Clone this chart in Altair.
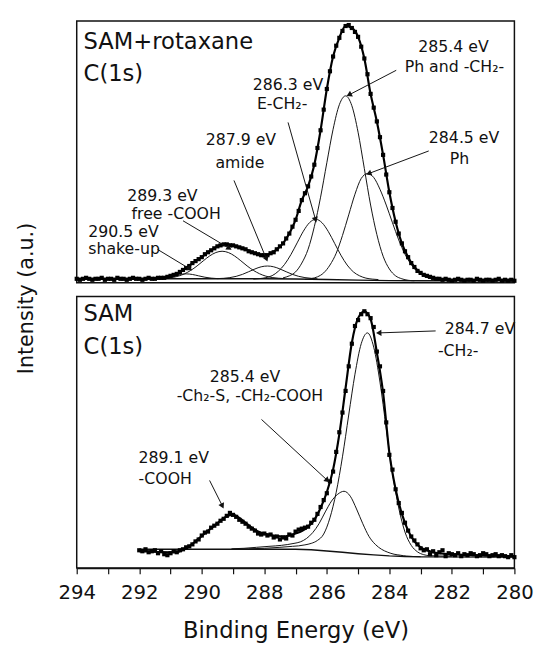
import math
import altair as alt
import pandas as pd

# ---------------- TOP PANEL (SAM+rotaxane) ----------------
top_data_start = 294.0
top_data_step = 0.1
top_data_i = [4, 3, 4, 5, 4, 3, 4, 4, 5, 3, 4, 4, 3, 5, 4, 4, 3, 4, 5, 4, 4,
              3, 4, 5, 4, 4, 5, 5, 5, 6, 7,
              8, 9, 11, 13, 15, 17, 20, 22, 24, 26,
              29, 31, 33, 35, 37, 38, 39, 39, 38, 38,
              37, 36, 35, 34, 32, 31, 30, 29, 28, 28,
              28, 30, 31, 34, 37, 40, 45, 50, 57, 64,
              73, 84, 91, 98, 108, 120, 137, 155, 176, 197,
              215, 230, 241, 249, 256, 261, 262, 259, 255, 250,
              240, 228, 212, 192, 178, 164, 148, 130, 110, 92,
              76, 62, 50, 40, 32, 26, 20, 16, 12, 10,
              8, 7, 6, 5, 4, 4, 3, 4, 3, 2,
              3, 4, 3, 2, 3, 3, 2, 4, 3, 2,
              3, 3, 2, 3, 4, 2, 3, 2, 3, 2]

top_env_e = [294, 292, 291.4, 291.2, 291.0, 290.8, 290.6, 290.4, 290.2, 290.0, 289.8, 289.6,
             289.4, 289.2, 289.0, 288.8, 288.6, 288.4, 288.2, 288.0, 287.8, 287.6, 287.4, 287.2,
             287.0, 286.8, 286.6, 286.4, 286.2, 286.0, 285.8, 285.6, 285.4, 285.2, 285.0, 284.8,
             284.6, 284.4, 284.2, 284.0, 283.8, 283.6, 283.4, 283.2, 283.0, 282.8, 282.6, 282.4,
             282.2, 282.0, 280.0]
top_env_i = [4, 4, 4.3, 5, 6.5, 9, 13, 17.5, 22, 26, 31, 35,
             38.5, 39, 38, 36, 34, 31, 29, 28, 29.5, 34, 40, 50,
             64, 84, 98, 120, 155, 197, 230, 249, 261, 259, 250, 228,
             192, 164, 130, 92, 62, 40, 26, 16, 10, 7, 5, 4,
             3.5, 3, 3]

top_bg_e = [294, 288, 287, 286, 285, 284, 283, 280]
top_bg_i = [4, 4, 3.8, 3.3, 2.6, 2.1, 2, 2]

c2905_e = [291.5, 291.3, 291.1, 290.9, 290.7, 290.5, 290.3, 290.1, 289.9, 289.7, 289.5]
c2905_i = [4.2, 4.7, 5.6, 7, 8.4, 9, 8.4, 7, 5.6, 4.7, 4.2]

c2893_e = [291.35, 291.15, 290.95, 290.75, 290.55, 290.35, 290.15, 289.95, 289.75, 289.55, 289.35,
           289.15, 288.95, 288.75, 288.55, 288.35, 288.15, 287.95, 287.75, 287.55, 287.35]
c2893_i = [4.2, 4.6, 5.3, 6.7, 9.1, 12.6, 17.1, 22.3, 27.2, 30.7, 32,
           30.7, 27.2, 22.3, 17.1, 12.6, 9.1, 6.7, 5.3, 4.6, 4.2]

c2879_e = [289.5, 289.3, 289.1, 288.9, 288.7, 288.5, 288.3, 288.1, 287.9, 287.7, 287.5, 287.3,
           287.1, 286.9, 286.7, 286.5, 286.3]
c2879_i = [4.2, 4.5, 5.2, 6.5, 8.5, 11.2, 14, 16.2, 17, 16.2, 14, 11.2, 8.5, 6.5, 5.2, 4.5, 4.0]

c2863_e = [288.35, 288.15, 287.95, 287.75, 287.55, 287.35, 287.15, 286.95, 286.75, 286.55, 286.35,
           286.15, 285.95, 285.75, 285.55, 285.35, 285.15, 284.95, 284.75, 284.55, 284.35]
c2863_i = [3.7, 4.2, 5.2, 7.2, 11.7, 18.7, 28.6, 40.5, 52.4, 61.2, 64.5,
           60.9, 51.9, 40, 28, 18, 11, 7, 4.7, 3.7, 3.2]

c2854_e = [287.4, 287.2, 287.0, 286.8, 286.6, 286.4, 286.2, 286.0, 285.8, 285.6, 285.4,
           285.2, 285.0, 284.8, 284.6, 284.4, 284.2, 284.0, 283.8, 283.6, 283.4, 283.2]
c2854_i = [5, 7, 11, 20, 34, 57, 87, 122, 156, 181, 190,
           180, 153, 116, 79, 49, 27, 14, 7, 4, 2.5, 2]

c2845_e = [286.7, 286.5, 286.3, 286.1, 285.9, 285.7, 285.5, 285.3, 285.1, 284.9, 284.7,
           284.5, 284.3, 284.1, 283.9, 283.7, 283.5, 283.3, 283.1, 282.9, 282.7, 282.5]
c2845_i = [3.4, 4.2, 6, 10, 18, 30, 48, 69, 90, 106, 111,
           107, 95, 79, 61, 43.5, 29, 18.5, 11, 7, 4.3, 3]

top_big_text = ["SAM+rotaxane", "C(1s)"]
top_big_e = [293.78, 293.78]
top_big_i = [238, 205]

top_lab_text = ["285.4 eV", "Ph and -CH\u2082-", "286.3 eV", "E-CH\u2082-", "287.9 eV", "amide",
                "289.3 eV", "free -COOH", "284.5 eV", "Ph"]
top_lab_e = [281.95, 281.92, 287.24, 287.43, 288.75, 288.78, 291.26, 290.82, 281.61, 281.76]
top_lab_i = [235, 214, 196, 177, 140, 117, 83, 65, 142, 121]

top_labl_text = ["290.5 eV", "shake-up"]
top_labl_e = [293.63, 293.63]
top_labl_i = [47, 29]

top_arr_e0 = [283.78, 282.74, 287.24, 288.97, 290.60, 291.42]
top_arr_i0 = [216, 134, 163, 104, 63, 34]
top_arr_e1 = [285.29, 284.66, 286.36, 287.93, 289.12, 290.38]
top_arr_i1 = [191, 111, 64, 24, 35, 14]

# ---------------- BOTTOM PANEL (SAM) ----------------
bot_data_start = 292.0
bot_data_step = 0.1
bot_data_i = [18,
              17, 19, 16, 17, 18, 15, 17, 14, 13, 15,
              17, 16, 18, 19, 21, 22, 24, 27, 29, 33,
              36, 37, 41, 43, 45, 48, 50, 53, 56, 54,
              52, 49, 47, 45, 42, 40, 38, 35, 34, 35,
              33, 34, 31, 32, 29, 31, 30, 34, 33, 37,
              39, 40, 41, 42, 46, 49, 55, 62, 69, 76,
              88, 98, 118, 138, 158, 180, 205, 228, 246, 252,
              258, 261, 258, 254, 245, 220, 205, 180, 148, 115,
              100, 80, 66, 56, 46, 38, 32, 28, 24, 20,
              18, 19, 14, 17, 13, 16, 18, 12, 15, 14,
              13, 15, 12, 14, 13, 15, 14, 12, 13, 15,
              14, 12, 13, 14, 12, 13, 12, 11, 13, 11]

bot_env_e = [292, 290.8, 290.6, 290.4, 290.2, 290.0, 289.8, 289.6, 289.4, 289.2, 289.0, 288.8,
             288.6, 288.4, 288.2, 288.0, 287.8, 287.6, 287.4, 287.2, 287.0, 286.8, 286.6, 286.4,
             286.2, 286.0, 285.8, 285.6, 285.4, 285.2, 285.0, 284.8, 284.6, 284.4, 284.2, 284.0,
             283.8, 283.6, 283.4, 283.2, 283.0, 282.8, 282.6, 282.4, 282.0, 280.0]
bot_env_i = [17, 16, 18.5, 22, 27, 32.5, 38, 43, 48, 52.5, 54, 51,
             46, 41, 37, 35, 33.5, 32.5, 32, 33, 35, 37.5, 42, 49,
             61, 77, 100, 136, 183, 229, 254, 261, 253, 219, 178, 117,
             80, 55, 38, 27, 21, 18, 16, 15, 14, 12]

bot_bg_e = [292, 287, 286.5, 286, 285.5, 285, 284.5, 284, 283.5, 283, 280]
bot_bg_i = [19, 19, 18.5, 17.3, 16, 14.5, 13.3, 12.3, 11.7, 11.3, 11]

b2854_e = [289.05, 288.65, 288.25, 287.85, 287.45, 287.05, 286.85, 286.65, 286.45, 286.25, 286.05,
           285.85, 285.65, 285.45, 285.25, 285.05, 284.85, 284.65, 284.45, 284.25, 284.05, 283.85,
           283.65, 283.45, 283.0]
b2854_i = [19.5, 20, 21, 22, 23, 25, 26.5, 30, 36, 45, 57,
           68, 75, 78, 73, 60, 45, 32, 24, 19, 16, 14,
           13, 12, 11.5]

b2847_e = [289.0, 288.5, 288.0, 287.5, 287.1, 286.9, 286.7, 286.5, 286.3, 286.1, 285.9, 285.7,
           285.5, 285.3, 285.1, 284.9, 284.7, 284.5, 284.3, 284.1, 283.9, 283.7, 283.5, 283.3,
           283.1, 282.9, 282.7, 282.0]
b2847_i = [19, 19.5, 20, 21, 22, 22.5, 23.5, 25, 28, 34.5, 51, 77,
           113, 155.5, 197, 228, 239, 224.5, 189, 142, 96.5, 61, 36.5, 23,
           16.4, 13.5, 12.5, 12]

bot_big_text = ["SAM", "C(1s)"]
bot_big_e = [293.78, 293.78]
bot_big_i = [251, 218]

bot_lab_text = ["284.7 eV", "-CH\u2082-", "285.4 eV", "-Ch\u2082-S, -CH\u2082-COOH"]
bot_lab_e = [281.1, 281.8, 288.62, 288.46]
bot_lab_i = [238, 216, 189, 170]

bot_labl_text = ["289.1 eV", "-COOH"]
bot_labl_e = [292.02, 292.02]
bot_labl_i = [107, 85]

bot_arr_e0 = [282.52, 288.09, 289.75]
bot_arr_i0 = [241, 151, 89]
bot_arr_e1 = [284.34, 285.98, 289.34]
bot_arr_i1 = [239, 89, 63]

x_ticks = list(range(280, 295))
y_title = "Intensity (a.u.)"
x_title = "Binding Energy (eV)"

# ---------------- layout constants ----------------
W = 445
H_TOP = 266
H_BOT = 276
E_MIN, E_MAX = 280, 294
INK = "#111111"
FONT = "DejaVu Sans"


def grid(start, step, vals):
    return [round(start - step * k, 2) for k in range(len(vals))]


def series(named):
    rows = []
    for name, (e, i) in named.items():
        for a, b in zip(e, i):
            rows.append({"E": a, "I": b, "s": name})
    return pd.DataFrame(rows)


def arrows(e0, i0, e1, i1, height):
    px = W / (E_MAX - E_MIN)
    py = height / height
    rows = []
    for a, b, c, d in zip(e0, i0, e1, i1):
        dx = -(c - a) * px
        dy = -(d - b) * py
        ang = math.degrees(math.atan2(dy, dx)) % 360
        rows.append({"E0": a, "I0": b, "E1": c, "I1": d, "ang": ang})
    return pd.DataFrame(rows)


def panel(height, data_start, data_vals, env_e, env_i, bg_e, bg_i, comps,
          big, labs, labsl, arr, xaxis, extra=None):
    xs = alt.Scale(domain=[E_MIN, E_MAX], reverse=True, nice=False, zero=False)
    ys = alt.Scale(domain=[0, height], nice=False, zero=False)
    X = alt.X("E:Q", scale=xs, axis=xaxis)
    Y = alt.Y("I:Q", scale=ys, axis=None)

    d_pts = pd.DataFrame({"E": grid(data_start, 0.1, data_vals), "I": data_vals})
    d_env = pd.DataFrame({"E": env_e, "I": env_i})
    d_bg = pd.DataFrame({"E": bg_e, "I": bg_i})
    d_comp = series(comps)

    layers = []
    layers.append(alt.Chart(d_bg).mark_line(color=INK, strokeWidth=1.4).encode(x=X, y=Y))
    layers.append(alt.Chart(d_comp).mark_line(color=INK, strokeWidth=1, interpolate="monotone")
                  .encode(x=X, y=Y, detail="s:N"))
    layers.append(alt.Chart(d_env).mark_line(color="#000000", strokeWidth=2.2, interpolate="monotone")
                  .encode(x=X, y=Y))
    layers.append(alt.Chart(d_pts).mark_square(size=18, color="#000000", opacity=1)
                  .encode(x=X, y=Y))

    d_arr = arr
    layers.append(alt.Chart(d_arr).mark_rule(color=INK, strokeWidth=1).encode(
        x=alt.X("E0:Q", scale=xs, axis=xaxis), x2="E1:Q",
        y=alt.Y("I0:Q", scale=ys, axis=None), y2="I1:Q"))
    layers.append(alt.Chart(d_arr).mark_point(shape="triangle-right", filled=True, size=40,
                                              color=INK, opacity=1).encode(
        x=alt.X("E1:Q", scale=xs, axis=xaxis), y=alt.Y("I1:Q", scale=ys, axis=None),
        angle=alt.Angle("ang:Q", scale=None)))

    t_big = pd.DataFrame({"E": big[1], "I": big[2], "t": big[0]})
    layers.append(alt.Chart(t_big).mark_text(align="left", baseline="alphabetic", font=FONT,
                                             fontSize=23, color=INK).encode(x=X, y=Y, text="t:N"))
    t_lab = pd.DataFrame({"E": labs[1], "I": labs[2], "t": labs[0]})
    layers.append(alt.Chart(t_lab).mark_text(align="center", baseline="alphabetic", font=FONT,
                                             fontSize=16, color=INK).encode(x=X, y=Y, text="t:N"))
    t_labl = pd.DataFrame({"E": labsl[1], "I": labsl[2], "t": labsl[0]})
    layers.append(alt.Chart(t_labl).mark_text(align="left", baseline="alphabetic", font=FONT,
                                              fontSize=16, color=INK).encode(x=X, y=Y, text="t:N"))
    if extra is not None:
        layers.append(extra)
    return alt.layer(*layers).properties(width=W, height=height)


ytitle_layer = alt.Chart(pd.DataFrame({"t": [y_title]})).mark_text(
    align="center", baseline="middle", angle=270, font=FONT, fontSize=21, color=INK
).encode(x=alt.value(-50), y=alt.value(282), text="t:N")

top = panel(H_TOP, top_data_start, top_data_i, top_env_e, top_env_i, top_bg_e, top_bg_i,
            {"a": (c2905_e, c2905_i), "b": (c2893_e, c2893_i), "c": (c2879_e, c2879_i),
             "d": (c2863_e, c2863_i), "e": (c2854_e, c2854_i), "f": (c2845_e, c2845_i)},
            (top_big_text, top_big_e, top_big_i),
            (top_lab_text, top_lab_e, top_lab_i),
            (top_labl_text, top_labl_e, top_labl_i),
            arrows(top_arr_e0, top_arr_i0, top_arr_e1, top_arr_i1, H_TOP),
            None, extra=ytitle_layer)

bottom_axis = alt.Axis(values=x_ticks, labelExpr="datum.value % 2 == 0 ? datum.label : ''",
                       format="d", tickSize=6, tickColor=INK, tickWidth=1.2, domainColor=INK,
                       domainWidth=1.5, labelFont=FONT, labelFontSize=20, labelColor=INK,
                       labelPadding=9, labelFlush=False, grid=False,
                       title=x_title, titleFont=FONT, titleFontSize=23, titleFontWeight="normal",
                       titleColor=INK, titlePadding=18)

bottom = panel(H_BOT, bot_data_start, bot_data_i, bot_env_e, bot_env_i, bot_bg_e, bot_bg_i,
               {"g": (b2854_e, b2854_i), "h": (b2847_e, b2847_i)},
               (bot_big_text, bot_big_e, bot_big_i),
               (bot_lab_text, bot_lab_e, bot_lab_i),
               (bot_labl_text, bot_labl_e, bot_labl_i),
               arrows(bot_arr_e0, bot_arr_i0, bot_arr_e1, bot_arr_i1, H_BOT),
               bottom_axis)

chart = alt.vconcat(top, bottom, spacing=14, bounds="flush").properties(
    padding={"left": 16, "top": 15, "right": 5, "bottom": 5},
    background="white",
).configure_view(stroke=INK, strokeWidth=1.5)

chart.save("out.html", embed_options={"renderer": "svg", "actions": False})
